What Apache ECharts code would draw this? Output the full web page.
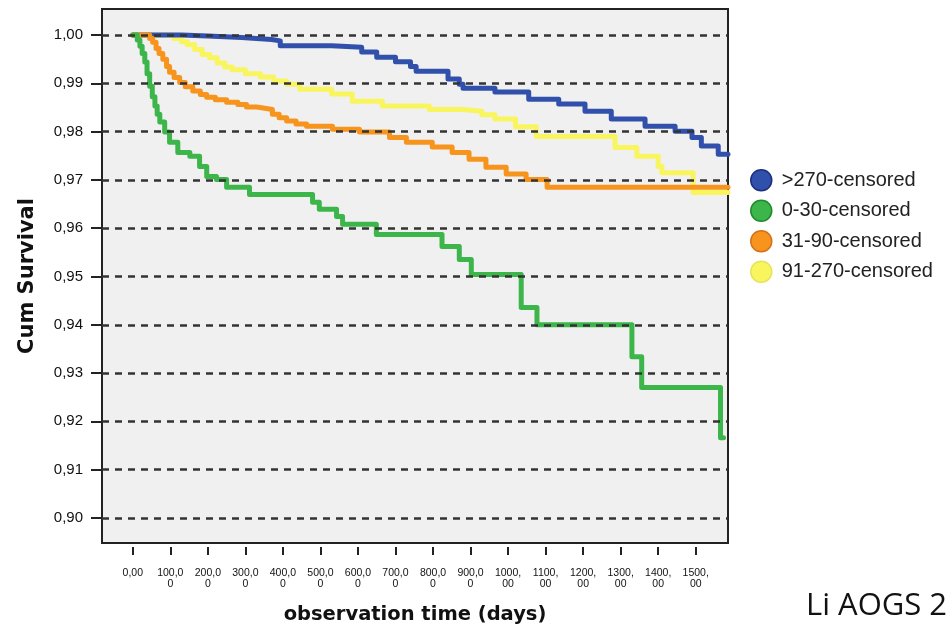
<!DOCTYPE html>
<html>
<head>
<meta charset="utf-8">
<script src="https://cdn.jsdelivr.net/npm/echarts@6/dist/echarts.min.js"></script>
<style>
html,body{margin:0;padding:0;background:#fff;}
#chart{width:951px;height:626px;}
</style>
</head>
<body>
<div id="chart"></div>
<script>
// ---- data (days, cumulative survival) ----
const seriesNames = ['>270-censored', '0-30-censored', '31-90-censored', '91-270-censored'];
const xTickValues = [0,100,200,300,400,500,600,700,800,900,1000,1100,1200,1300,1400,1500];
const yTickValues = [0.90,0.91,0.92,0.93,0.94,0.95,0.96,0.97,0.98,0.99,1.00];

const blueData = [[0,1.000],[130,0.9998],[200,0.9995],[290,0.9991],[370,0.9988],[393,0.9978],[530,0.9975],[610,0.9965],[650,0.9954],[700,0.9945],[740,0.9935],[755,0.9925],[840,0.9909],[870,0.9898],[880,0.9890],[965,0.9882],[1055,0.9867],[1135,0.9857],[1205,0.9842],[1275,0.9826],[1365,0.9811],[1445,0.9801],[1490,0.9788],[1515,0.9770],[1560,0.9753],[1586,0.9753]];
const greenData = [[0,1.000],[5,1.000],[12,0.9990],[19,0.9977],[25,0.9962],[32,0.9944],[38,0.9920],[45,0.9894],[52,0.9872],[59,0.9853],[65,0.9836],[72,0.9820],[85,0.9799],[98,0.9778],[120,0.9757],[152,0.9749],[178,0.9728],[197,0.9707],[223,0.9701],[250,0.9685],[311,0.9670],[479,0.9654],[497,0.9639],[543,0.9624],[559,0.9608],[649,0.9587],[824,0.9562],[870,0.9535],[902,0.9504],[1035,0.9436],[1077,0.9400],[1330,0.9334],[1356,0.9270],[1566,0.9166],[1574,0.9166]];
const orangeData = [[0,1.000],[37,1.000],[45,0.9993],[53,0.9985],[62,0.9972],[70,0.9962],[80,0.9950],[90,0.9935],[98,0.9923],[110,0.9912],[125,0.9902],[140,0.9893],[160,0.9884],[180,0.9877],[197,0.9871],[220,0.9866],[250,0.9861],[280,0.9856],[303,0.9851],[330,0.9848],[356,0.9846],[372,0.9836],[390,0.9829],[410,0.9822],[435,0.9816],[463,0.9811],[532,0.9805],[604,0.9799],[684,0.9788],[729,0.9778],[798,0.9768],[851,0.9757],[896,0.9743],[941,0.9726],[995,0.9712],[1048,0.9701],[1104,0.9685],[1586,0.9685]];
const yellowData = [[0,1.000],[85,1.000],[110,0.9993],[130,0.9986],[145,0.9980],[165,0.9970],[185,0.9960],[205,0.9953],[225,0.9942],[245,0.9934],[265,0.9928],[300,0.9920],[340,0.9913],[375,0.9905],[410,0.9898],[445,0.9888],[530,0.9878],[585,0.9863],[665,0.9853],[790,0.9846],[880,0.9842],[930,0.9835],[965,0.9826],[1020,0.9810],[1075,0.9790],[1285,0.9767],[1343,0.9749],[1400,0.9728],[1410,0.9715],[1493,0.9674],[1586,0.9674]];

const colors = {
  '>270-censored': '#3150ab',
  '0-30-censored': '#3cb54a',
  '31-90-censored': '#f7941d',
  '91-270-censored': '#f8f55e'
};
const legendBorders = {
  '>270-censored': '#1c2f7c',
  '0-30-censored': '#1f8a2c',
  '31-90-censored': '#d4711a',
  '91-270-censored': '#e6e35a'
};

function xLabel(v){
  if (v === 0) return '0,00';
  if (v < 1000) return v + ',0\n0';
  return v + ',\n00';
}
function yLabel(v){
  return v.toFixed(2).replace('.', ',');
}

function stepSeries(name, data){
  return {
    name: name,
    type: 'line',
    step: 'end',
    data: data,
    showSymbol: false,
    symbol: 'none',
    clip: true,
    lineStyle: {color: colors[name], width: 5, join: 'round', cap: 'round'},
    itemStyle: {color: colors[name]},
    z: 2
  };
}

const chart = echarts.init(document.getElementById('chart'), null, {renderer: 'canvas'});
const option = {
  animation: false,
  backgroundColor: '#ffffff',
  textStyle: {fontFamily: 'Liberation Sans'},
  grid: {
    left: 102, top: 9, right: 223, bottom: 83,
    outerBoundsMode: 'none',
    containLabel: false,
    show: true, backgroundColor: '#f0f0f0', borderColor: '#222', borderWidth: 2
  },
  xAxis: {
    type: 'value',
    min: -82, max: 1586,
    offset: 4,
    name: 'observation time (days)',
    nameLocation: 'middle',
    nameGap: 58,
    nameTextStyle: {fontFamily: 'DejaVu Sans', fontWeight: 'bold', fontSize: 19.5, color: '#111'},
    axisLine: {show: false, onZero: false},
    axisTick: {show: true, inside: false, customValues: xTickValues, length: 8, lineStyle: {color: '#222', width: 2}},
    axisLabel: {customValues: xTickValues, formatter: xLabel, fontSize: 10.5, lineHeight: 11, margin: 21, color: '#111', fontFamily: 'Liberation Sans'},
    splitLine: {show: false}
  },
  yAxis: {
    type: 'value',
    min: 0.8948, max: 1.0054,
    z: 5,
    name: 'Cum Survival',
    nameLocation: 'middle',
    nameGap: 64,
    nameTextStyle: {fontFamily: 'DejaVu Sans', fontWeight: 'bold', fontSize: 21, color: '#111'},
    axisLine: {show: false, onZero: false},
    axisTick: {show: true, inside: false, customValues: yTickValues, length: 11, lineStyle: {color: '#222', width: 2}},
    axisLabel: {customValues: yTickValues, formatter: yLabel, fontSize: 15, margin: 19, color: '#111', fontFamily: 'Liberation Sans'},
    splitLine: {show: true, lineStyle: {color: '#333', width: 2.5, type: [7, 6]}}
  },
  legend: {
    orient: 'vertical',
    left: 745, top: 164,
    itemWidth: 21, itemHeight: 21, itemGap: 8,
    icon: 'circle',
    textStyle: {fontSize: 20, fontFamily: 'Liberation Sans', color: '#222', padding: [0, 0, 0, 5]},
    data: seriesNames.map(n => ({name: n, icon: 'circle', itemStyle: {color: colors[n], borderColor: legendBorders[n], borderWidth: 1.5}}))
  },
  graphic: [{
    type: 'text', left: 806, top: 591,
    style: {text: 'Li AOGS 2', font: '31px "Open Sans"', fill: '#111'}
  }],
  series: [
    stepSeries('91-270-censored', yellowData),
    stepSeries('>270-censored', blueData),
    stepSeries('31-90-censored', orangeData),
    stepSeries('0-30-censored', greenData)
  ]
};
chart.setOption(option);
</script>
</body>
</html>
